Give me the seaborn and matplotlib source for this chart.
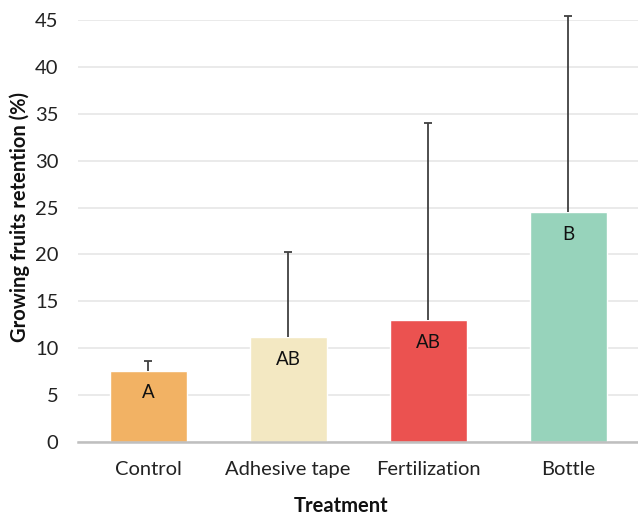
import matplotlib
matplotlib.use("Agg")
import matplotlib.pyplot as plt
import seaborn as sns
import pandas as pd
import numpy as np

categories = ["Control", "Adhesive tape", "Fertilization", "Bottle"]
means = [7.6, 11.2, 13.0, 24.5]
upper_err = [1.0, 9.1, 21.0, 20.9]
letters = ["A", "AB", "AB", "B"]
colors = ["#F2B264", "#F3E8C2", "#EB5250", "#97D3BB"]
yticks = [0, 5, 10, 15, 20, 25, 30, 35, 40, 45]

sns.set_theme(style="white")
plt.rcParams["font.family"] = ["Lato", "DejaVu Sans"]

df = pd.DataFrame({"Treatment": categories, "Retention": means})

fig = plt.figure(figsize=(6.38, 5.16), dpi=100)
ax = fig.add_axes([0.1223, 0.1434, 0.8777, 0.8178])

sns.barplot(data=df, x="Treatment", y="Retention", hue="Treatment",
            palette=colors, legend=False, width=0.55, errorbar=None,
            saturation=1, ax=ax, zorder=2)
xs = np.arange(len(categories))
tops = np.array(means) + np.array(upper_err)
ax.vlines(xs, means, tops, color="#404040", linewidth=1.3, zorder=3, clip_on=False)
ax.plot(xs, tops, linestyle="none", marker="_", markersize=6, markeredgewidth=1.3,
        color="#404040", zorder=3, clip_on=False)

for x, m, t in zip(xs, means, letters):
    ax.annotate(t, xy=(x, m), xytext=(0, -16), textcoords="offset points",
                ha="center", va="center", fontsize=13.5, color="#111111")

ax.set_xlim(-0.5, 3.5)
ax.set_ylim(0, 45)
ax.set_yticks(yticks)
ax.set_yticklabels([str(v) for v in yticks])
ax.yaxis.grid(True, color="#E6E6E6", linewidth=1.2, zorder=0)
ax.set_axisbelow(True)
for s in ["top", "right", "left"]:
    ax.spines[s].set_visible(False)
ax.spines["bottom"].set_color("#BFBFBF")
ax.spines["bottom"].set_linewidth(1.8)
ax.tick_params(axis="both", length=0, labelsize=14.5, colors="#222222")
ax.tick_params(axis="x", pad=14)
ax.tick_params(axis="y", pad=14)
ax.set_xlabel("Treatment", fontsize=14.5, fontweight="bold", color="#111111")
ax.set_ylabel("Growing fruits retention (%)", fontsize=14.5, fontweight="bold", color="#111111")
ax.xaxis.set_label_coords(0.47, -0.152)
ax.yaxis.set_label_coords(-0.1036, 0.534)
ax.xaxis.label.set_va("center")
ax.yaxis.label.set_va("center")

fig.savefig("out.png", dpi=100)
